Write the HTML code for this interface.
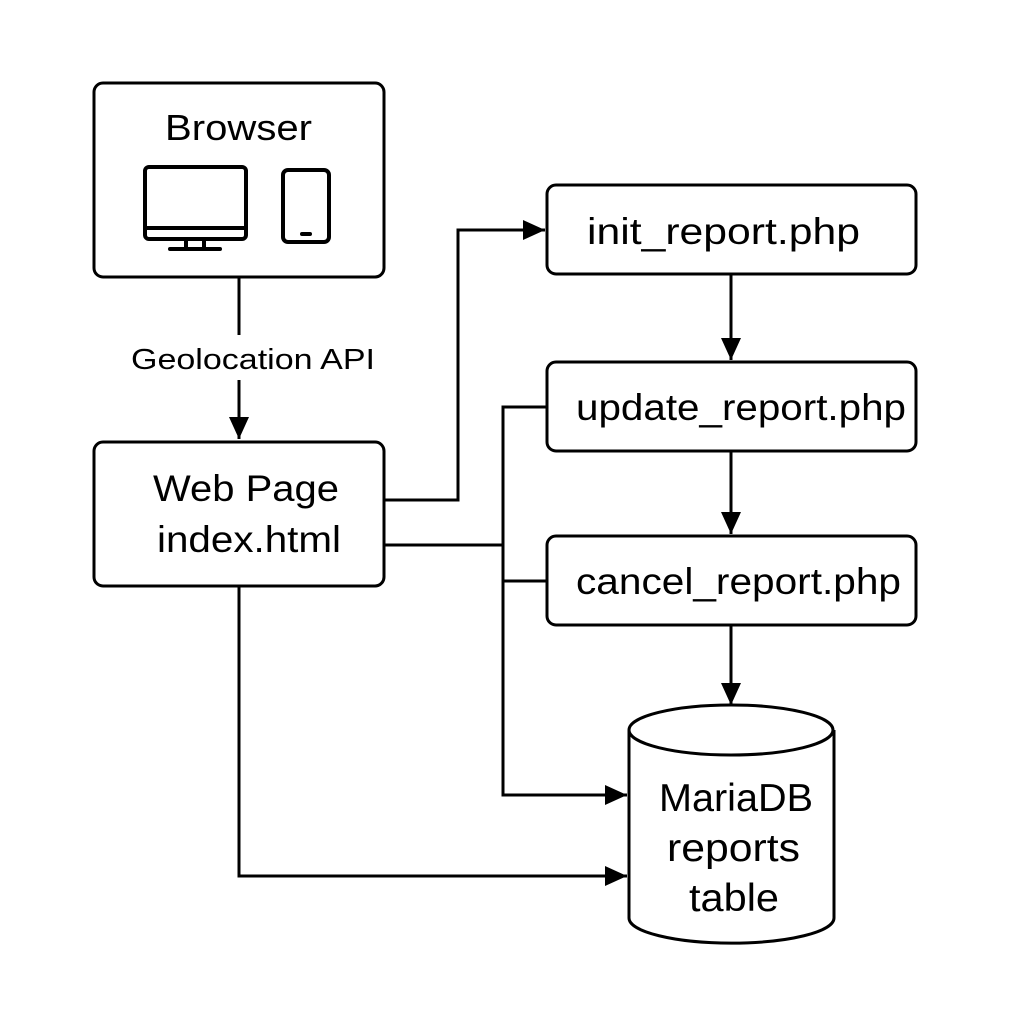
<!DOCTYPE html>
<html><head><meta charset="utf-8"><style>
body{margin:0;background:#fff}
svg text{font-family:"Liberation Sans",sans-serif;fill:#000}
</style></head><body>
<svg width="1024" height="1024" viewBox="0 0 1024 1024" xmlns="http://www.w3.org/2000/svg">
<defs>
<marker id="b" markerWidth="24" markerHeight="24" refX="22" refY="12" orient="auto" markerUnits="userSpaceOnUse"><path d="M0,2 L22,12 L0,22z" fill="#000"/></marker></defs>
<g fill="none" stroke="#000" stroke-width="3">
<rect x="94" y="83" width="290" height="194" rx="9"/>
<rect x="94" y="442" width="290" height="144" rx="9"/>
<rect x="547" y="185" width="369" height="89" rx="9"/>
<rect x="547" y="362" width="369" height="89" rx="9"/>
<rect x="547" y="536" width="369" height="89" rx="9"/>
<rect x="145" y="167" width="101" height="72" rx="4" stroke-width="4"/>
<line x1="145" y1="228" x2="246" y2="228" stroke-width="4"/>
<line x1="186" y1="239" x2="186" y2="249" stroke-width="4"/>
<line x1="204" y1="239" x2="204" y2="249" stroke-width="4"/>
<line x1="170" y1="249" x2="220" y2="249" stroke-width="4" stroke-linecap="round"/>
<rect x="283" y="170" width="46" height="72" rx="5" stroke-width="4"/>
<line x1="302" y1="234" x2="310" y2="234" stroke-width="4" stroke-linecap="round"/>
<path d="M629,730 L629,918 A102,25 0 0 0 834,918 L834,730"/>
<ellipse cx="731" cy="730" rx="102" ry="25"/>
<line x1="239" y1="277" x2="239" y2="335"/>
<line x1="239" y1="380" x2="239" y2="439" marker-end="url(#b)"/>
<polyline points="384,500 458,500 458,230 545,230" marker-end="url(#b)"/>
<line x1="731" y1="274" x2="731" y2="360" marker-end="url(#b)"/>
<line x1="731" y1="451" x2="731" y2="534" marker-end="url(#b)"/>
<line x1="731" y1="625" x2="731" y2="705" marker-end="url(#b)"/>
<line x1="384" y1="545" x2="503" y2="545"/>
<polyline points="547,407 503,407 503,795 627,795" marker-end="url(#b)"/>
<line x1="503" y1="581" x2="547" y2="581"/>
<polyline points="239,586 239,876 627,876" marker-end="url(#b)"/>
</g>
<text x="165" y="140" font-size="36" textLength="147" lengthAdjust="spacingAndGlyphs">Browser</text>
<text x="131" y="369" font-size="29" textLength="244" lengthAdjust="spacingAndGlyphs">Geolocation API</text>
<text x="153" y="501" font-size="37" textLength="186" lengthAdjust="spacingAndGlyphs">Web Page</text>
<text x="157" y="552" font-size="37" textLength="184" lengthAdjust="spacingAndGlyphs">index.html</text>
<text x="587" y="244" font-size="37" textLength="273" lengthAdjust="spacingAndGlyphs">init_report.php</text>
<text x="576" y="420" font-size="37" textLength="330" lengthAdjust="spacingAndGlyphs">update_report.php</text>
<text x="576" y="594" font-size="37" textLength="325" lengthAdjust="spacingAndGlyphs">cancel_report.php</text>
<text x="659" y="811" font-size="39" textLength="154" lengthAdjust="spacingAndGlyphs">MariaDB</text>
<text x="667" y="861" font-size="39" textLength="133" lengthAdjust="spacingAndGlyphs">reports</text>
<text x="689" y="911" font-size="39" textLength="90" lengthAdjust="spacingAndGlyphs">table</text>
</svg>
</body></html>
